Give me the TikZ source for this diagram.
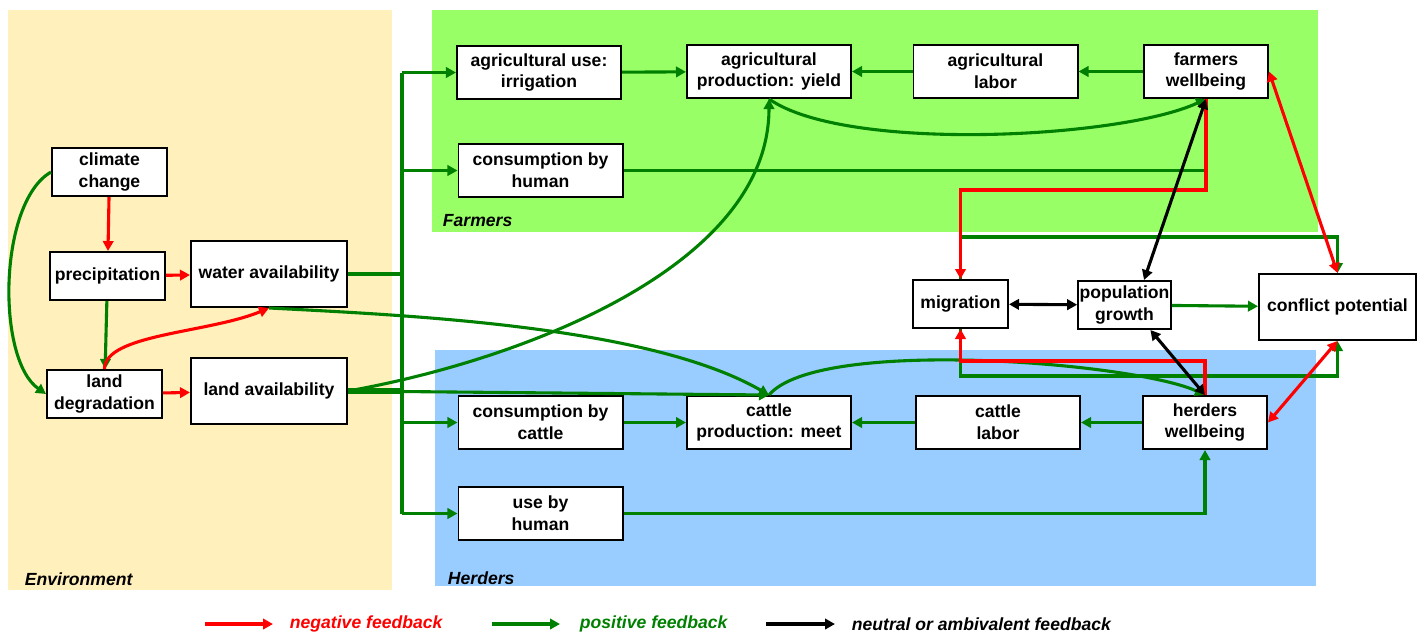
\documentclass[tikz,border=0pt]{standalone}
\usepackage{fontspec}
\setmainfont{Liberation Sans}
\usetikzlibrary{arrows.meta, positioning, calc}

\definecolor{envbg}{RGB}{255,240,188}
\definecolor{farmbg}{RGB}{153,255,102}
\definecolor{herdbg}{RGB}{153,204,255}
\definecolor{posgreen}{RGB}{0,128,0}
\definecolor{negred}{RGB}{255,0,0}

\begin{document}
\begin{tikzpicture}[
        x=0.025cm, y=0.025cm,
        font=\fontsize{12.5}{15.5}\selectfont\bfseries,
        >={Triangle[length=2.5mm,width=2.6mm]},
        box/.style   ={draw, line width=1.4pt, fill=white, align=center, inner sep=1pt},
        sbox/.style  ={box, minimum width=2.875cm, minimum height=1.2cm},
        wbox/.style  ={box, minimum width=3.9cm, minimum height=1.65cm},
        mbox/.style  ={box, minimum width=4.1cm, minimum height=1.325cm},
        nbox/.style  ={box, minimum width=3.1cm, minimum height=1.325cm},
        pline/.style ={line width=2.2pt, draw=posgreen},
        pe/.style    ={->, pline},
        ne/.style    ={->, line width=2.2pt, draw=negred},
        ae/.style    ={<->, line width=2.2pt, draw=black},
        area/.style  ={anchor=west, font=\fontsize{12.5}{15}\selectfont\bfseries\itshape},
        legtext/.style={anchor=west, font=\fontsize{12.5}{15}\selectfont\bfseries\itshape}
    ]

    \useasboundingbox (0,0) rectangle (1426,-634);

    %% --- backgrounds ---
    \fill[envbg]  (8,-10)   rectangle (392,-590);
    \fill[farmbg] (432,-10) rectangle (1318,-232);
    \fill[herdbg] (435,-350) rectangle (1316,-586);
    \node[area] (envlbl)  at (20,-579)  {Environment};
    \node[area] (farmlbl) at (438,-221) {Farmers};
    \node[area] (herdlbl) at (443,-578) {Herders};

    %% --- environment ---
    \node[sbox] (cc)      at (109.5,-172) {climate\\change};
    \node[sbox] (precip)  at (107.5,-276) {precipitation};
    \node[sbox] (landdeg) at (104.5,-394) {land\\degradation};
    \node[wbox] (water)   at (269,-274)   {water availability};
    \node[wbox] (land)    at (269,-391)   {land availability};

    %% --- farmers ---
    \node[mbox] (irr)     at (539,-72.5)  {agricultural use:\\irrigation};
    \node[mbox] (agprod)  at (769,-71.5)  {agricultural\\production: yield};
    \node[mbox] (aglab)   at (995.5,-71.5){agricultural\\labor};
    \node[nbox] (farmwb)  at (1206,-71.5) {farmers\\wellbeing};
    \node[mbox] (conshum) at (540.5,-170.5) {consumption by\\human};

    %% --- middle ---
    \node[box, minimum width=2.375cm, minimum height=1.2cm] (mig)  at (960.5,-304) {migration};
    \node[box, minimum width=2.275cm, minimum height=1.2cm] (popg) at (1124.5,-305) {population\\growth};
    \node[wbox, minimum width=3.925cm] (conf) at (1337.5,-307) {conflict potential};

    %% --- herders ---
    \node[mbox] (conscat) at (540.5,-422.5) {consumption by\\cattle};
    \node[mbox] (catprod) at (769,-422.5)   {cattle\\production: meet};
    \node[mbox] (catlab)  at (998,-422.5)   {cattle\\labor};
    \node[nbox] (herdwb)  at (1205,-422.5)  {herders\\wellbeing};
    \node[mbox] (usehum)  at (540.5,-513.5) {use by\\human};

    %% --- distribution bus from water / land availability ---
    \coordinate (bus) at (402,0);
    \draw[pline] (bus |- irr.west) -- (bus |- usehum.west);
    \draw[pline] (water.east) -- (water.east -| bus);
    \draw[pline, line width=4.5pt] (land.east) -- (land.east -| bus);
    \draw[pe] (bus |- irr.west)     -- (irr.west);
    \draw[pe] (bus |- conshum.west) -- (conshum.west);
    \draw[pe] (bus |- conscat.west) -- (conscat.west);
    \draw[pe] (bus |- usehum.west)  -- (usehum.west);

    %% --- environment links ---
    \draw[ne] (cc) -- (precip);
    \draw[pe] (cc.west) to[out=210,in=145,looseness=0.7] (landdeg.west);
    \draw[ne] (precip) -- (water);
    \draw[pe] (precip) -- (landdeg);
    \draw[ne] (landdeg) -- (land);
    \draw[ne] (landdeg.north) .. controls +(0,35) and +(-60,-25) .. (water.south);

    %% --- long green links ---
    \draw[pe] (land.east) to[out=10,in=-90,looseness=0.85] (agprod.south);
    \draw[pe] (water.south) to[out=-3,in=150,looseness=0.7] (catprod.north);
    \draw[pe] (land.east) -- (catprod.north);
    \draw[pe] (agprod.south) to[out=-35,in=-155,looseness=0.55] (farmwb.south);
    \draw[pe] (catprod.north) to[out=50,in=155,looseness=0.45] (herdwb.north);

    %% --- rows ---
    \draw[pe] (irr) -- (agprod);
    \draw[pe] (aglab) -- (agprod);
    \draw[pe] (farmwb) -- (aglab);
    \draw[pline] (conshum.east) -- (conshum.east -| farmwb.south) -- (farmwb.south);
    \draw[pe] (conscat) -- (catprod);
    \draw[pe] (catlab) -- (catprod);
    \draw[pe] (herdwb) -- (catlab);
    \draw[pe] (usehum.east) -| (herdwb.south);

    %% --- conflict side ---
    \draw[pe] (mig.north) -- ++(0,42) -| (conf.north);
    \draw[pe] (mig.south) -- ++(0,-47) -| (conf.south);
    \draw[pe] (popg) -- (conf);
    \draw[ne] (farmwb.south) -- ++(0,-91) -| (mig.north);
    \draw[ne] (herdwb.north) -- ++(0,34) -| (mig.south);
    \draw[ne, <->] (farmwb.east) -- (conf.north);
    \draw[ne, <->] (herdwb.east) -- (conf.south);
    \draw[ae] (mig) -- (popg);
    \draw[ae] (farmwb.south) -- (popg.52);
    \draw[ae] (popg.-44) -- (herdwb.north);

    %% --- legend ---
    \coordinate (negA) at (205,-624);
    \coordinate (posA) at (492,-624);
    \coordinate (neuA) at (766,-624);
    \node[legtext, text=negred]   (negT) at (285,-624) {negative feedback};
    \node[legtext, text=posgreen] (posT) at (575,-624) {positive feedback};
    \node[legtext]                (neuT) at (847,-624) {neutral or ambivalent feedback};
    \draw[ne, line width=2.4pt] (negA) -- ++(68,0);
    \draw[pe, line width=2.4pt] (posA) -- ++(68,0);
    \draw[->, line width=2.4pt] (neuA) -- ++(69,0);

\end{tikzpicture}
\end{document}
